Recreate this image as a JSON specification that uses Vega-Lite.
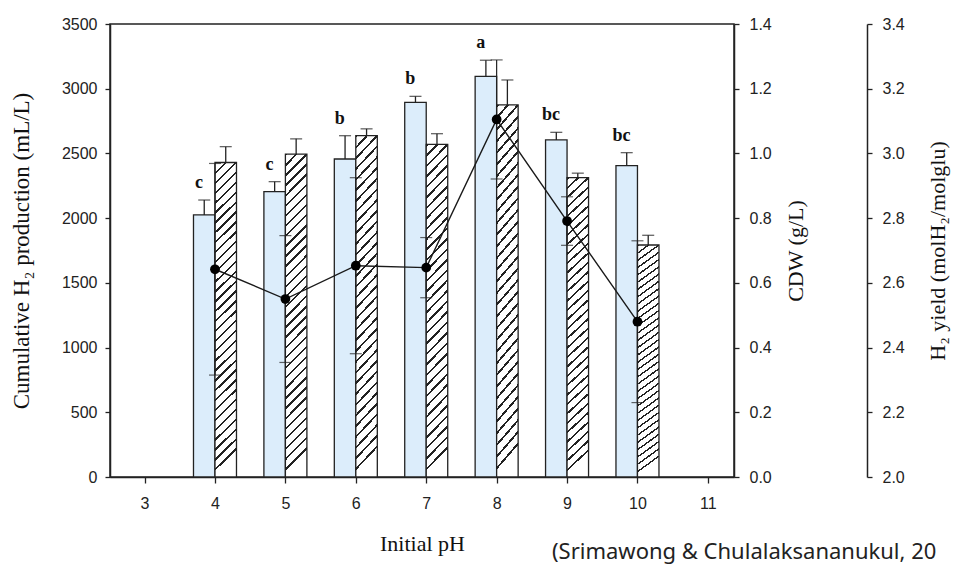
{
  "$schema": "https://vega.github.io/schema/vega-lite/v6.json",
  "width": 624,
  "height": 453,
  "autosize": {"type": "none"},
  "padding": {"left": 110, "top": 24, "right": 228, "bottom": 92},
  "background": "white",
  "config": {
    "view": {"stroke": "#222", "strokeWidth": 1.5},
    "axis": {
      "grid": false,
      "domainColor": "#222",
      "domainWidth": 1.5,
      "tickColor": "#222",
      "tickWidth": 1.3,
      "tickSize": 5,
      "labelColor": "#222",
      "labelFont": "Liberation Sans",
      "labelFontSize": 16,
      "labelFlush": false,
      "labelOverlap": false,
      "titleFont": "Liberation Serif",
      "titleFontWeight": "normal",
      "titleColor": "#111",
      "titleFontSize": 22
    }
  },
  "title": {
    "text": "(Srimawong & Chulalaksananukul, 20",
    "orient": "bottom",
    "anchor": "start",
    "frame": "group",
    "dx": 442,
    "offset": -12,
    "font": "Noto Sans",
    "fontSize": 22,
    "fontWeight": "normal",
    "color": "#222"
  },
  "data": {
    "values": [
      {"pH": 4, "h2": 2025, "h2hi": 2140, "cdw": 0.972, "cdwhi": 1.021, "yld": 2.642, "ylo": 2.315, "yhi": 2.969, "letter": "c"},
      {"pH": 5, "h2": 2205, "h2hi": 2282, "cdw": 0.998, "cdwhi": 1.045, "yld": 2.550, "ylo": 2.354, "yhi": 2.746, "letter": "c"},
      {"pH": 6, "h2": 2457, "h2hi": 2637, "cdw": 1.055, "cdwhi": 1.076, "yld": 2.653, "ylo": 2.381, "yhi": 2.925, "letter": "b"},
      {"pH": 7, "h2": 2895, "h2hi": 2941, "cdw": 1.028, "cdwhi": 1.061, "yld": 2.647, "ylo": 2.554, "yhi": 2.740, "letter": "b"},
      {"pH": 8, "h2": 3096, "h2hi": 3220, "cdw": 1.150, "cdwhi": 1.227, "yld": 3.105, "ylo": 2.921, "yhi": 3.289, "letter": "a"},
      {"pH": 9, "h2": 2604, "h2hi": 2663, "cdw": 0.925, "cdwhi": 0.939, "yld": 2.791, "ylo": 2.716, "yhi": 2.866, "letter": "bc"},
      {"pH": 10, "h2": 2405, "h2hi": 2506, "cdw": 0.717, "cdwhi": 0.747, "yld": 2.480, "ylo": 2.230, "yhi": 2.730, "letter": "bc"}
    ]
  },
  "encoding": {
    "x": {
      "field": "pH",
      "type": "quantitative",
      "scale": {"domain": [2.58, 11.3], "nice": false, "zero": false},
      "axis": {
        "values": [3, 4, 5, 6, 7, 8, 9, 10, 11],
        "format": "d",
        "tickSize": 6,
        "labelPadding": 12,
        "title": "Initial pH",
        "titleFontSize": 22,
        "titlePadding": 22
      }
    }
  },
  "layer": [
    {
      "layer": [
        {"mark": {"type": "bar", "width": 21.5, "xOffset": -10.75, "fill": "#dcedfb", "stroke": "#222", "strokeWidth": 1.3},
         "encoding": {"y": {"field": "h2", "type": "quantitative", "scale": {"domain": [0, 3500], "nice": false},
            "axis": {"orient": "left", "values": [0, 500, 1000, 1500, 2000, 2500, 3000, 3500], "format": "d", "labelPadding": 8, "title": "Cumulative H₂ production (mL/L)", "titleFontSize": 23, "titlePadding": 28}}}},
        {"mark": {"type": "rule", "xOffset": -10.75, "color": "#222", "strokeWidth": 1.3},
         "encoding": {"y": {"field": "h2", "type": "quantitative", "scale": {"domain": [0, 3500], "nice": false},
            "axis": {"orient": "left", "values": [0, 500, 1000, 1500, 2000, 2500, 3000, 3500], "format": "d", "labelPadding": 8, "title": "Cumulative H₂ production (mL/L)", "titleFontSize": 23, "titlePadding": 28}},
            "y2": {"field": "h2hi"}}},
        {"mark": {"type": "tick", "orient": "horizontal", "size": 12, "thickness": 1.3, "xOffset": -10.75, "color": "#222"},
         "encoding": {"y": {"field": "h2hi", "type": "quantitative", "scale": {"domain": [0, 3500], "nice": false},
            "axis": {"orient": "left", "values": [0, 500, 1000, 1500, 2000, 2500, 3000, 3500], "format": "d", "labelPadding": 8, "title": "Cumulative H₂ production (mL/L)", "titleFontSize": 23, "titlePadding": 28}}}},
        {"mark": {"type": "text", "dx": -16, "dy": -12, "baseline": "alphabetic", "align": "center", "font": "Liberation Serif", "fontWeight": "bold", "fontSize": 18, "color": "#111"},
         "encoding": {"y": {"field": "h2hi", "type": "quantitative", "scale": {"domain": [0, 3500], "nice": false},
            "axis": {"orient": "left", "values": [0, 500, 1000, 1500, 2000, 2500, 3000, 3500], "format": "d", "labelPadding": 8, "title": "Cumulative H₂ production (mL/L)", "titleFontSize": 23, "titlePadding": 28}},
            "text": {"field": "letter"}}}
      ]
    },
    {
      "layer": [
        {"mark": {"type": "bar", "width": 21.5, "xOffset": 10.75, "stroke": "#222", "strokeWidth": 1.3,
          "fill": {"gradient": "linear", "x1": 0, "y1": 0, "x2": 0.067, "y2": 1, "stops": [
            {"offset": 0, "color": "#222"}, {"offset": 0.0075, "color": "#222"}, {"offset": 0.0075, "color": "#fff"}, {"offset": 0.03125, "color": "#fff"},
            {"offset": 0.03125, "color": "#222"}, {"offset": 0.03875, "color": "#222"}, {"offset": 0.03875, "color": "#fff"}, {"offset": 0.0625, "color": "#fff"},
            {"offset": 0.0625, "color": "#222"}, {"offset": 0.07, "color": "#222"}, {"offset": 0.07, "color": "#fff"}, {"offset": 0.09375, "color": "#fff"},
            {"offset": 0.09375, "color": "#222"}, {"offset": 0.10125, "color": "#222"}, {"offset": 0.10125, "color": "#fff"}, {"offset": 0.125, "color": "#fff"},
            {"offset": 0.125, "color": "#222"}, {"offset": 0.1325, "color": "#222"}, {"offset": 0.1325, "color": "#fff"}, {"offset": 0.15625, "color": "#fff"},
            {"offset": 0.15625, "color": "#222"}, {"offset": 0.16375, "color": "#222"}, {"offset": 0.16375, "color": "#fff"}, {"offset": 0.1875, "color": "#fff"},
            {"offset": 0.1875, "color": "#222"}, {"offset": 0.195, "color": "#222"}, {"offset": 0.195, "color": "#fff"}, {"offset": 0.21875, "color": "#fff"},
            {"offset": 0.21875, "color": "#222"}, {"offset": 0.22625, "color": "#222"}, {"offset": 0.22625, "color": "#fff"}, {"offset": 0.25, "color": "#fff"},
            {"offset": 0.25, "color": "#222"}, {"offset": 0.2575, "color": "#222"}, {"offset": 0.2575, "color": "#fff"}, {"offset": 0.28125, "color": "#fff"},
            {"offset": 0.28125, "color": "#222"}, {"offset": 0.28875, "color": "#222"}, {"offset": 0.28875, "color": "#fff"}, {"offset": 0.3125, "color": "#fff"},
            {"offset": 0.3125, "color": "#222"}, {"offset": 0.32, "color": "#222"}, {"offset": 0.32, "color": "#fff"}, {"offset": 0.34375, "color": "#fff"},
            {"offset": 0.34375, "color": "#222"}, {"offset": 0.35125, "color": "#222"}, {"offset": 0.35125, "color": "#fff"}, {"offset": 0.375, "color": "#fff"},
            {"offset": 0.375, "color": "#222"}, {"offset": 0.3825, "color": "#222"}, {"offset": 0.3825, "color": "#fff"}, {"offset": 0.40625, "color": "#fff"},
            {"offset": 0.40625, "color": "#222"}, {"offset": 0.41375, "color": "#222"}, {"offset": 0.41375, "color": "#fff"}, {"offset": 0.4375, "color": "#fff"},
            {"offset": 0.4375, "color": "#222"}, {"offset": 0.445, "color": "#222"}, {"offset": 0.445, "color": "#fff"}, {"offset": 0.46875, "color": "#fff"},
            {"offset": 0.46875, "color": "#222"}, {"offset": 0.47625, "color": "#222"}, {"offset": 0.47625, "color": "#fff"}, {"offset": 0.5, "color": "#fff"},
            {"offset": 0.5, "color": "#222"}, {"offset": 0.5075, "color": "#222"}, {"offset": 0.5075, "color": "#fff"}, {"offset": 0.53125, "color": "#fff"},
            {"offset": 0.53125, "color": "#222"}, {"offset": 0.53875, "color": "#222"}, {"offset": 0.53875, "color": "#fff"}, {"offset": 0.5625, "color": "#fff"},
            {"offset": 0.5625, "color": "#222"}, {"offset": 0.57, "color": "#222"}, {"offset": 0.57, "color": "#fff"}, {"offset": 0.59375, "color": "#fff"},
            {"offset": 0.59375, "color": "#222"}, {"offset": 0.60125, "color": "#222"}, {"offset": 0.60125, "color": "#fff"}, {"offset": 0.625, "color": "#fff"},
            {"offset": 0.625, "color": "#222"}, {"offset": 0.6325, "color": "#222"}, {"offset": 0.6325, "color": "#fff"}, {"offset": 0.65625, "color": "#fff"},
            {"offset": 0.65625, "color": "#222"}, {"offset": 0.66375, "color": "#222"}, {"offset": 0.66375, "color": "#fff"}, {"offset": 0.6875, "color": "#fff"},
            {"offset": 0.6875, "color": "#222"}, {"offset": 0.695, "color": "#222"}, {"offset": 0.695, "color": "#fff"}, {"offset": 0.71875, "color": "#fff"},
            {"offset": 0.71875, "color": "#222"}, {"offset": 0.72625, "color": "#222"}, {"offset": 0.72625, "color": "#fff"}, {"offset": 0.75, "color": "#fff"},
            {"offset": 0.75, "color": "#222"}, {"offset": 0.7575, "color": "#222"}, {"offset": 0.7575, "color": "#fff"}, {"offset": 0.78125, "color": "#fff"},
            {"offset": 0.78125, "color": "#222"}, {"offset": 0.78875, "color": "#222"}, {"offset": 0.78875, "color": "#fff"}, {"offset": 0.8125, "color": "#fff"},
            {"offset": 0.8125, "color": "#222"}, {"offset": 0.82, "color": "#222"}, {"offset": 0.82, "color": "#fff"}, {"offset": 0.84375, "color": "#fff"},
            {"offset": 0.84375, "color": "#222"}, {"offset": 0.85125, "color": "#222"}, {"offset": 0.85125, "color": "#fff"}, {"offset": 0.875, "color": "#fff"},
            {"offset": 0.875, "color": "#222"}, {"offset": 0.8825, "color": "#222"}, {"offset": 0.8825, "color": "#fff"}, {"offset": 0.90625, "color": "#fff"},
            {"offset": 0.90625, "color": "#222"}, {"offset": 0.91375, "color": "#222"}, {"offset": 0.91375, "color": "#fff"}, {"offset": 0.9375, "color": "#fff"},
            {"offset": 0.9375, "color": "#222"}, {"offset": 0.945, "color": "#222"}, {"offset": 0.945, "color": "#fff"}, {"offset": 0.96875, "color": "#fff"},
            {"offset": 0.96875, "color": "#222"}, {"offset": 0.97625, "color": "#222"}, {"offset": 0.97625, "color": "#fff"}, {"offset": 1, "color": "#fff"}
          ]}},
         "encoding": {"y": {"field": "cdw", "type": "quantitative", "scale": {"domain": [0, 1.4], "nice": false},
            "axis": {"orient": "right", "values": [0, 0.2, 0.4, 0.6, 0.8, 1.0, 1.2, 1.4], "format": ".1f", "labelPadding": 10, "title": "CDW (g/L)", "titleAngle": 270, "titleBaseline": "top", "titlePadding": 14}}}},
        {"mark": {"type": "rule", "xOffset": 10.75, "color": "#222", "strokeWidth": 1.3},
         "encoding": {"y": {"field": "cdw", "type": "quantitative", "scale": {"domain": [0, 1.4], "nice": false},
            "axis": {"orient": "right", "values": [0, 0.2, 0.4, 0.6, 0.8, 1.0, 1.2, 1.4], "format": ".1f", "labelPadding": 10, "title": "CDW (g/L)", "titleAngle": 270, "titleBaseline": "top", "titlePadding": 14}},
            "y2": {"field": "cdwhi"}}},
        {"mark": {"type": "tick", "orient": "horizontal", "size": 12, "thickness": 1.3, "xOffset": 10.75, "color": "#222"},
         "encoding": {"y": {"field": "cdwhi", "type": "quantitative", "scale": {"domain": [0, 1.4], "nice": false},
            "axis": {"orient": "right", "values": [0, 0.2, 0.4, 0.6, 0.8, 1.0, 1.2, 1.4], "format": ".1f", "labelPadding": 10, "title": "CDW (g/L)", "titleAngle": 270, "titleBaseline": "top", "titlePadding": 14}}}}
      ]
    },
    {
      "layer": [
        {"mark": {"type": "rule", "color": "#222", "strokeWidth": 1.2},
         "encoding": {"y": {"field": "ylo", "type": "quantitative", "scale": {"domain": [2.0, 3.4], "nice": false, "zero": false},
            "axis": {"orient": "right", "offset": 133, "values": [2.0, 2.2, 2.4, 2.6, 2.8, 3.0, 3.2, 3.4], "format": ".1f", "labelPadding": 10, "title": "H₂ yield (molH₂/molglu)", "titleAngle": 270, "titleBaseline": "top", "titlePadding": 23}},
            "y2": {"field": "yhi"}}},
        {"mark": {"type": "tick", "orient": "horizontal", "size": 12, "thickness": 1.2, "color": "#222"},
         "encoding": {"y": {"field": "ylo", "type": "quantitative", "scale": {"domain": [2.0, 3.4], "nice": false, "zero": false},
            "axis": {"orient": "right", "offset": 133, "values": [2.0, 2.2, 2.4, 2.6, 2.8, 3.0, 3.2, 3.4], "format": ".1f", "labelPadding": 10, "title": "H₂ yield (molH₂/molglu)", "titleAngle": 270, "titleBaseline": "top", "titlePadding": 23}}}},
        {"mark": {"type": "tick", "orient": "horizontal", "size": 12, "thickness": 1.2, "color": "#222"},
         "encoding": {"y": {"field": "yhi", "type": "quantitative", "scale": {"domain": [2.0, 3.4], "nice": false, "zero": false},
            "axis": {"orient": "right", "offset": 133, "values": [2.0, 2.2, 2.4, 2.6, 2.8, 3.0, 3.2, 3.4], "format": ".1f", "labelPadding": 10, "title": "H₂ yield (molH₂/molglu)", "titleAngle": 270, "titleBaseline": "top", "titlePadding": 23}}}},
        {"mark": {"type": "line", "color": "#1a1a1a", "strokeWidth": 1.4},
         "encoding": {"y": {"field": "yld", "type": "quantitative", "scale": {"domain": [2.0, 3.4], "nice": false, "zero": false},
            "axis": {"orient": "right", "offset": 133, "values": [2.0, 2.2, 2.4, 2.6, 2.8, 3.0, 3.2, 3.4], "format": ".1f", "labelPadding": 10, "title": "H₂ yield (molH₂/molglu)", "titleAngle": 270, "titleBaseline": "top", "titlePadding": 23}}}},
        {"mark": {"type": "point", "filled": true, "size": 95, "color": "#000", "opacity": 1},
         "encoding": {"y": {"field": "yld", "type": "quantitative", "scale": {"domain": [2.0, 3.4], "nice": false, "zero": false},
            "axis": {"orient": "right", "offset": 133, "values": [2.0, 2.2, 2.4, 2.6, 2.8, 3.0, 3.2, 3.4], "format": ".1f", "labelPadding": 10, "title": "H₂ yield (molH₂/molglu)", "titleAngle": 270, "titleBaseline": "top", "titlePadding": 23}}}}
      ]
    }
  ],
  "resolve": {"scale": {"y": "independent"}, "axis": {"y": "independent"}}
}
